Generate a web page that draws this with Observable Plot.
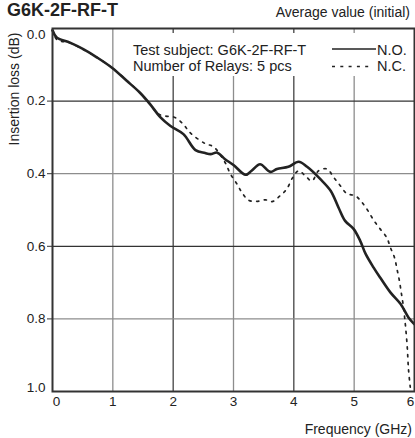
<!DOCTYPE html>
<html>
<head>
<meta charset="utf-8">
<script src="https://cdn.jsdelivr.net/npm/d3@7"></script>
<script src="https://cdn.jsdelivr.net/npm/@observablehq/plot@0.6"></script>
<style>
  html, body { margin: 0; padding: 0; background: #fff; }
</style>
</head>
<body>
<div id="chart"></div>
<script>
// ---- data ----
const titleText = "G6K-2F-RF-T";
const subtitleText = "Average value (initial)";
const xLabel = "Frequency (GHz)";
const yLabel = "Insertion loss (dB)";
const legendInfo = ["Test subject: G6K-2F-RF-T", "Number of Relays: 5 pcs"];
const seriesNames = ["N.O.", "N.C."];

const xTicks = [0, 1, 2, 3, 4, 5, 6];
const yTicks = [0.0, 0.2, 0.4, 0.6, 0.8, 1.0];

const noFreq = [0, 0.07, 0.29, 0.51, 0.74, 0.985, 1.23, 1.45, 1.62, 1.79, 1.95, 2.17, 2.37, 2.53, 2.62, 2.73, 2.86, 3.0, 3.2, 3.3, 3.44, 3.61, 3.72, 3.91, 4.08, 4.22, 4.44, 4.61, 4.74, 4.85, 4.99, 5.1, 5.19, 5.32, 5.43, 5.6, 5.77, 5.9, 6.0];
const noLoss = [0.005, 0.025, 0.039, 0.057, 0.08, 0.108, 0.144, 0.177, 0.209, 0.245, 0.268, 0.291, 0.335, 0.343, 0.346, 0.342, 0.36, 0.376, 0.403, 0.392, 0.374, 0.395, 0.387, 0.381, 0.367, 0.381, 0.415, 0.447, 0.493, 0.53, 0.552, 0.585, 0.621, 0.658, 0.686, 0.727, 0.759, 0.796, 0.815];

const ncFreq = [0, 0.07, 0.29, 0.51, 0.74, 0.985, 1.23, 1.45, 1.62, 1.75, 1.87, 2.03, 2.17, 2.28, 2.53, 2.67, 2.86, 2.95, 3.06, 3.14, 3.25, 3.39, 3.53, 3.64, 3.77, 3.88, 3.98, 4.08, 4.19, 4.3, 4.41, 4.55, 4.66, 4.77, 4.88, 5.02, 5.13, 5.24, 5.33, 5.43, 5.54, 5.6, 5.67, 5.71, 5.75, 5.78, 5.81, 5.83, 5.85, 5.88, 5.9, 5.93];
const ncLoss = [0.005, 0.03, 0.04, 0.058, 0.08, 0.108, 0.143, 0.177, 0.21, 0.235, 0.241, 0.245, 0.264, 0.287, 0.317, 0.326, 0.369, 0.401, 0.429, 0.452, 0.473, 0.476, 0.472, 0.477, 0.461, 0.443, 0.411, 0.392, 0.406, 0.42, 0.392, 0.387, 0.41, 0.433, 0.455, 0.461, 0.479, 0.505, 0.53, 0.552, 0.576, 0.603, 0.632, 0.663, 0.695, 0.727, 0.759, 0.786, 0.818, 0.878, 0.938, 0.988];

// ---- build tables ----
const noData = noFreq.map((f, i) => ({f, v: noLoss[i]}));
const ncData = ncFreq.map((f, i) => ({f, v: ncLoss[i]}));

const W = 415, H = 438;
const mL = 52, mR = 1, mT = 28, mB = 47;
const FONT = "'Liberation Sans', Arial, Helvetica, sans-serif";
const INK = "#222";

function annotations() {
  const g = d3.create("svg:g").attr("font-family", FONT).attr("fill", INK).attr("text-anchor", "start");
  g.append("text").attr("x", 7).attr("y", 16).attr("font-size", 18).attr("font-weight", "bold").attr("text-anchor", "start").text(titleText);
  g.append("text").attr("x", 410).attr("y", 17).attr("font-size", 14).attr("text-anchor", "end").text(subtitleText);
  g.append("text").attr("x", 412).attr("y", 434).attr("font-size", 14).attr("text-anchor", "end").text(xLabel);
  g.append("text").attr("transform", "translate(19,89) rotate(-90)").attr("font-size", 14).attr("text-anchor", "middle").text(yLabel);
  return g.node();
}

function legend() {
  const g = d3.create("svg:g").attr("font-family", FONT).attr("font-size", 14.5).attr("fill", INK).attr("text-anchor", "start");
  g.append("rect").attr("x", 120).attr("y", 33).attr("width", 292).attr("height", 43).attr("fill", "white");
  g.append("text").attr("x", 133).attr("y", 54.5).attr("text-anchor", "start").text(legendInfo[0]);
  g.append("text").attr("x", 133).attr("y", 71).attr("text-anchor", "start").text(legendInfo[1]);
  g.append("line").attr("x1", 332).attr("x2", 376).attr("y1", 49).attr("y2", 49).attr("stroke", INK).attr("stroke-width", 1.3);
  g.append("text").attr("x", 377).attr("y", 54.5).attr("text-anchor", "start").text(seriesNames[0]);
  g.append("line").attr("x1", 332).attr("x2", 372).attr("y1", 66.5).attr("y2", 66.5).attr("stroke", INK).attr("stroke-width", 1.4).attr("stroke-dasharray", "3,5.3");
  g.append("text").attr("x", 377).attr("y", 71).attr("text-anchor", "start").text(seriesNames[1]);
  return g.node();
}

const fmt = d3.format(".1f");

const chart = Plot.plot({
  width: W, height: H,
  marginLeft: mL, marginRight: mR, marginTop: mT, marginBottom: mB,
  style: {fontFamily: FONT, fontSize: "13.5px", background: "white", color: INK},
  x: {domain: [0, 6]},
  y: {domain: [0, 1], reverse: true},
  marks: [
    Plot.gridX([1, 3, 5], {stroke: "#8d8d8d", strokeOpacity: 1, strokeWidth: 1.3}),
    Plot.gridX([2, 4], {stroke: "#333", strokeOpacity: 1, strokeWidth: 1.2}),
    Plot.gridY([0.4, 0.8], {stroke: "#8d8d8d", strokeOpacity: 1, strokeWidth: 1.3}),
    Plot.gridY([0.2, 0.6], {stroke: "#333", strokeOpacity: 1, strokeWidth: 1.2}),
    legend,
    Plot.line(ncData, {x: "f", y: "v", stroke: INK, strokeWidth: 1.7, strokeDasharray: "2.2,5.5", curve: "catmull-rom"}),
    Plot.line(noData, {x: "f", y: "v", stroke: INK, strokeWidth: 2.6, curve: "catmull-rom"}),
    Plot.frame({stroke: "#333", strokeWidth: 2}),
    Plot.axisY(yTicks.slice(1, -1), {tickSize: 5, tickPadding: 2, tickFormat: fmt, label: null, stroke: "#333", fill: INK}),
    Plot.axisY([yTicks[0]], {tickSize: 0, tickPadding: 7, tickFormat: fmt, label: null, dy: 6, fill: INK}),
    Plot.axisY([yTicks[yTicks.length - 1]], {tickSize: 0, tickPadding: 7, tickFormat: fmt, label: null, dy: -4, fill: INK}),
    Plot.axisX(xTicks.slice(1, -1), {tickSize: 0, tickPadding: 5, label: null, fill: INK}),
    Plot.axisX([xTicks[0]], {tickSize: 0, tickPadding: 5, label: null, dx: 4, fill: INK}),
    Plot.axisX([xTicks[xTicks.length - 1]], {tickSize: 0, tickPadding: 5, label: null, dx: -4, fill: INK}),
    annotations
  ]
});
document.getElementById("chart").appendChild(chart);
</script>
</body>
</html>
